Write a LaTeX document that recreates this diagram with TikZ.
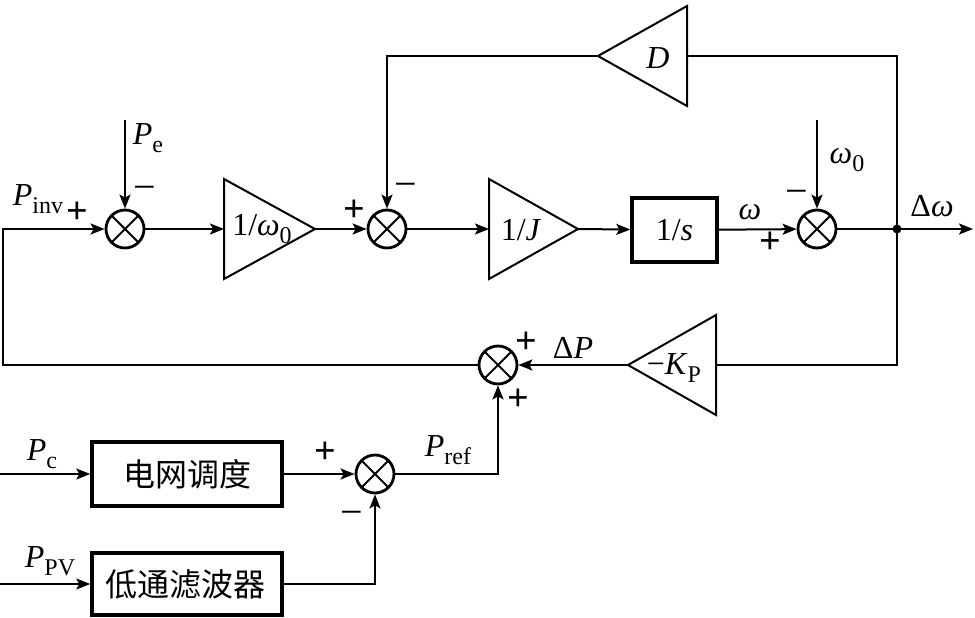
\documentclass[tikz,border=0pt]{standalone}
\usepackage{fontspec}
\setmainfont{Liberation Serif}
\newfontfamily\cjk{Noto Sans CJK SC}
\usetikzlibrary{arrows.meta}
\newcommand{\symsub}[2]{\textit{#1}\raisebox{-8pt}{\fontsize{24}{24}\selectfont #2}}
\begin{document}
\begin{tikzpicture}[x=1pt,y=-1pt,
  every node/.style={font=\fontsize{32}{36}\selectfont},
  conn/.style={line width=2pt},
  arr/.style={conn,-{Stealth[length=14pt,width=11pt,inset=3pt]}},
  sumnode/.style={circle,draw,line width=2.8pt,minimum size=38pt,inner sep=0pt,
    path picture={\draw[line width=2pt] (path picture bounding box.north west)--(path picture bounding box.south east)
      (path picture bounding box.north east)--(path picture bounding box.south west);}},
  blockbox/.style={draw,line width=3.5pt,inner sep=0pt},
  gainshape/.style={line width=2pt,line join=miter},
  lbl/.style={inner sep=0pt},
  sgn/.style={inner sep=0pt,font=\fontsize{38}{38}\selectfont\bfseries},
  msgn/.style={inner sep=0pt,font=\fontsize{40}{40}\selectfont},
  cjklbl/.style={inner sep=0pt,font=\cjk\fontsize{32}{36}\selectfont}]
\useasboundingbox (0,0) rectangle (975,618);

% summing junctions
\node[sumnode] (s1) at (125,229) {};
\node[sumnode] (s2) at (387,229) {};
\node[sumnode] (s3) at (817,229) {};
\node[sumnode] (s4) at (498,365) {};
\node[sumnode] (s5) at (375,474) {};

% blocks
\node[blockbox,minimum width=85pt,minimum height=64pt] (int) at (674.5,230) {1/\textit{s}};
\node[blockbox,minimum width=190pt,minimum height=64pt] (grid) at (187,474) {};
\node[cjklbl] (gridt) at (187,474) {电网调度};
\node[blockbox,minimum width=190pt,minimum height=62pt] (lpf) at (187,584) {};
\node[cjklbl] (lpft) at (185,584) {低通滤波器};

% gain triangles
\draw[gainshape] (224,179) -- (315,229) -- (224,279) -- cycle;
\coordinate (g1in) at (224,229); \coordinate (g1out) at (315,229);
\node[lbl] (g1t) at (262,229) {1/\symsub{ω}{0}};

\draw[gainshape] (489,179) -- (578,229) -- (489,279) -- cycle;
\coordinate (g2in) at (489,229); \coordinate (g2out) at (578,229);
\node[lbl] (g2t) at (521,230) {1/\textit{J}};

\draw[gainshape] (687,6) -- (598,56) -- (687,106) -- cycle;
\coordinate (gDin) at (687,56); \coordinate (gDout) at (598,56);
\node[lbl] (gDt) at (658,58) {\textit{D}};

\draw[gainshape] (716,315) -- (628,365) -- (716,415) -- cycle;
\coordinate (gKin) at (716,365); \coordinate (gKout) at (628,365);
\node[lbl] (gKt) at (674,368) {−\symsub{K}{P}};

% coordinates
\coordinate (jn) at (897,229);
\coordinate (outw) at (973,229);
\coordinate (pe) at (125,120);
\coordinate (w0) at (817,120);
\coordinate (c1) at (3,365);
\coordinate (c2) at (3,229);
\coordinate (pcin) at (0,474);
\coordinate (pvin) at (0,584);

% connectors
\draw[arr] (s1) -- (g1in);
\draw[arr] (g1out) -- (s2);
\draw[arr] (s2) -- (g2in);
\draw[arr] (g2out) -- (int);
\draw[arr] (int) -- (s3);
\draw[conn] (s3) -- (jn);
\fill (jn) circle (4.5pt);
\draw[arr] (jn) -- (outw);
\draw[conn] (jn) |- (gDin);
\draw[arr] (gDout) -| (s2);
\draw[conn] (jn) |- (gKin);
\draw[arr] (gKout) -- (s4);
\draw[arr] (s4) -- (c1) -- (c2) -- (s1);
\draw[arr] (pe) -- (s1);
\draw[arr] (w0) -- (s3);
\draw[arr] (pcin) -- (grid);
\draw[arr] (grid) -- (s5);
\draw[arr] (pvin) -- (lpf);
\draw[arr] (lpf) -| (s5);
\draw[arr] (s5) -| (s4);

% labels
\node[lbl] (lPinv) at (38,199) {\symsub{P}{inv}};
\node[sgn] (lp1) at (77,213) {+};
\node[lbl] (lPe) at (148,138) {\symsub{P}{e}};
\node[msgn] (lm1) at (145,193) {−};
\node[sgn] (lp2) at (354,211) {+};
\node[msgn] (lm2) at (406,190) {−};
\node[lbl] (lw) at (750,212) {\textit{ω}};
\node[sgn] (lp3) at (770,243) {+};
\node[msgn] (lm3) at (797,197) {−};
\node[lbl] (lw0) at (847,160) {\symsub{ω}{0}};
\node[lbl] (ldw) at (932,206) {Δ\textit{ω}};
\node[lbl] (ldP) at (573,348) {Δ\textit{P}};
\node[sgn] (lp4a) at (526,343) {+};
\node[sgn] (lp4b) at (518,400) {+};
\node[lbl] (lPc) at (42,454) {\symsub{P}{c}};
\node[lbl] (lPpv) at (50,561) {\symsub{P}{PV}};
\node[sgn] (lp5) at (325,453) {+};
\node[msgn] (lm5) at (352,518) {−};
\node[lbl] (lPref) at (448,450) {\symsub{P}{ref}};
\end{tikzpicture}
\end{document}
